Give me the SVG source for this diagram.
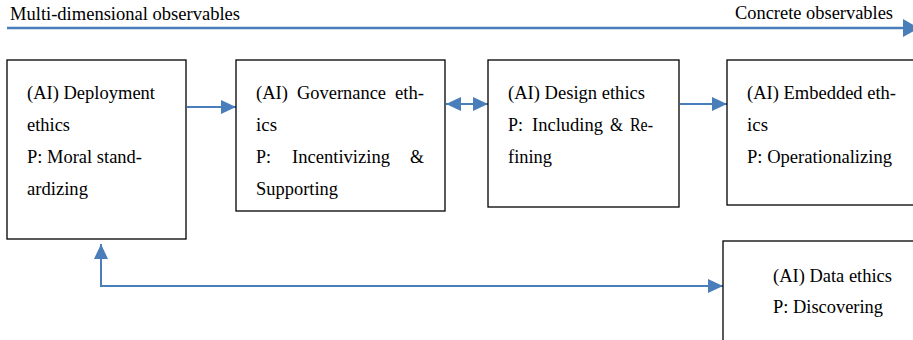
<svg xmlns="http://www.w3.org/2000/svg" width="913" height="340" viewBox="0 0 913 340">
<style>
.box{fill:#fff;stroke:#000;stroke-width:1.3}
text{font-family:"Liberation Serif","DejaVu Serif","Noto Serif",serif;font-size:18px;fill:#000}
.c{fill:none;stroke:#4A7EBB;stroke-width:2}
</style>
<defs>
<marker id="ah" markerUnits="userSpaceOnUse" markerWidth="16" markerHeight="14" refX="15" refY="7" orient="auto-start-reverse">
<path d="M0,0 L15,7 L0,14 Z" fill="#4A7EBB"/>
</marker>
</defs>
<rect width="913" height="340" fill="#fff"/>
<g id="axis">
<line x1="7" y1="28" x2="904" y2="28" stroke="#4A7EBB" stroke-width="2.5"/>
<path d="M903,19 L919,28 L903,37 Z" fill="#4A7EBB"/>
<text x="10" y="20" textLength="230" lengthAdjust="spacingAndGlyphs">Multi-dimensional observables</text>
<text x="735" y="19" textLength="158" lengthAdjust="spacingAndGlyphs">Concrete observables</text>
</g>
<g id="connectors">
<line class="c" x1="187" y1="107" x2="236" y2="107" marker-end="url(#ah)"/>
<line class="c" x1="446" y1="104" x2="488" y2="104" marker-start="url(#ah)" marker-end="url(#ah)"/>
<line class="c" x1="680" y1="104" x2="727" y2="104" marker-end="url(#ah)"/>
<polyline class="c" points="723,286 101,286 101,244" marker-start="url(#ah)" marker-end="url(#ah)"/>
</g>
<g id="deployment">
<rect class="box" x="7" y="60" width="179" height="179"/>
<text x="27" y="99" textLength="128" lengthAdjust="spacingAndGlyphs">(AI) Deployment</text>
<text x="27" y="131" textLength="43" lengthAdjust="spacingAndGlyphs">ethics</text>
<text x="27" y="163" textLength="115" lengthAdjust="spacingAndGlyphs">P: Moral stand-</text>
<text x="27" y="195" textLength="61" lengthAdjust="spacingAndGlyphs">ardizing</text>
</g>
<g id="governance">
<rect class="box" x="236" y="60" width="209" height="151"/>
<text x="256" y="99" textLength="32" lengthAdjust="spacingAndGlyphs">(AI)</text>
<text x="297" y="99" textLength="89" lengthAdjust="spacingAndGlyphs">Governance</text>
<text x="395" y="99" textLength="29" lengthAdjust="spacingAndGlyphs">eth-</text>
<text x="256" y="131" textLength="21" lengthAdjust="spacingAndGlyphs">ics</text>
<text x="256" y="163" textLength="15" lengthAdjust="spacingAndGlyphs">P:</text>
<text x="292" y="163" textLength="98" lengthAdjust="spacingAndGlyphs">Incentivizing</text>
<text x="410" y="163" textLength="14" lengthAdjust="spacingAndGlyphs">&amp;</text>
<text x="256" y="195" textLength="82" lengthAdjust="spacingAndGlyphs">Supporting</text>
</g>
<g id="design">
<rect class="box" x="488" y="60" width="191" height="147"/>
<text x="508" y="99" textLength="137" lengthAdjust="spacingAndGlyphs">(AI) Design ethics</text>
<text x="508" y="131" textLength="15" lengthAdjust="spacingAndGlyphs">P:</text>
<text x="532" y="131" textLength="71" lengthAdjust="spacingAndGlyphs">Including</text>
<text x="610" y="131" textLength="13" lengthAdjust="spacingAndGlyphs">&amp;</text>
<text x="630" y="131" textLength="23" lengthAdjust="spacingAndGlyphs">Re-</text>
<text x="508" y="163" textLength="44" lengthAdjust="spacingAndGlyphs">fining</text>
</g>
<g id="embedded">
<rect class="box" x="727" y="60" width="200" height="145"/>
<text x="747" y="99" textLength="149" lengthAdjust="spacingAndGlyphs">(AI) Embedded eth-</text>
<text x="747" y="131" textLength="21" lengthAdjust="spacingAndGlyphs">ics</text>
<text x="747" y="163" textLength="145" lengthAdjust="spacingAndGlyphs">P: Operationalizing</text>
</g>
<g id="data">
<rect class="box" x="723" y="241" width="200" height="110"/>
<text x="773" y="282" textLength="119" lengthAdjust="spacingAndGlyphs">(AI) Data ethics</text>
<text x="773" y="313" textLength="110" lengthAdjust="spacingAndGlyphs">P: Discovering</text>
</g>
</svg>
